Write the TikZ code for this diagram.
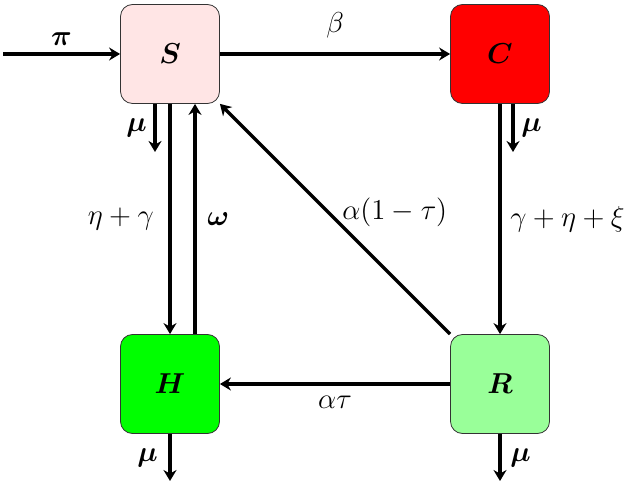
\documentclass[tikz,border=0pt]{standalone}
\usepackage{amsmath}
\usepackage{amssymb}
\usepackage{tikz}
\usetikzlibrary{arrows.meta}
\tikzstyle{model}=[x=0.5pt, y=0.5pt, font=\Large]
\tikzstyle{box}=[rectangle, rounded corners=6pt, draw=black!80, thin, minimum size=49.5pt, inner sep=0pt]
\tikzstyle{edge}=[-{Stealth[length=5.5pt, width=6.5pt, inset=1.8pt]}, line width=1.6pt]
\tikzstyle{edgeLabel}=[midway, above]

\begin{document}
\begin{tikzpicture}[model]
	\useasboundingbox (0,0) rectangle (624,487);
	% compartments
	\draw (170,433) node[box, fill=red!10] (S) {$\boldsymbol{S}$};
	\draw (500,433) node[box, fill=red] (C) {$\boldsymbol{C}$};
	\draw (170,103) node[box, fill=green] (H) {$\boldsymbol{H}$};
	\draw (500,103) node[box, fill=green!40] (R) {$\boldsymbol{R}$};
	% free ends
	\coordinate (in) at (3,433);
	\coordinate (sOut) at (155,335);
	\coordinate (cOut) at (513,335);
	\coordinate (hOut) at (170,6);
	\coordinate (rOut) at (500,6);
	% flows
	\draw[edge] (in) -- (S) node [edgeLabel] {$\boldsymbol{\pi}$};
	\draw[edge] (S) -- (C) node [edgeLabel, yshift=4pt] {$\beta$};
	\draw[edge] (S.south -| sOut) -- (sOut) node [midway, left] {$\boldsymbol{\mu}$};
	\draw[edge] (C.south -| cOut) -- (cOut) node [midway, right] {$\boldsymbol{\mu}$};
	\draw[edge] (S) -- (H) node [midway, left, xshift=-4pt] {$\eta+\gamma$};
	\draw[edge] ([xshift=12.5pt]H.north) -- ([xshift=12.5pt]S.south) node [midway, right, xshift=2pt] {$\boldsymbol{\omega}$};
	\draw[edge] (C) -- (R) node [midway, right, xshift=1pt] {$\gamma+\eta+\xi$};
	\draw[edge] (R.north west) -- (S.south east) node [pos=0.53, right, xshift=3pt] {$\alpha(1-\tau)$};
	\draw[edge] (R) -- (H) node [midway, below, yshift=-2pt] {$\alpha\tau$};
	\draw[edge] (H) -- (hOut) node [midway, left, xshift=-2pt] {$\boldsymbol{\mu}$};
	\draw[edge] (R) -- (rOut) node [midway, right, xshift=1pt] {$\boldsymbol{\mu}$};
\end{tikzpicture}
\end{document}
